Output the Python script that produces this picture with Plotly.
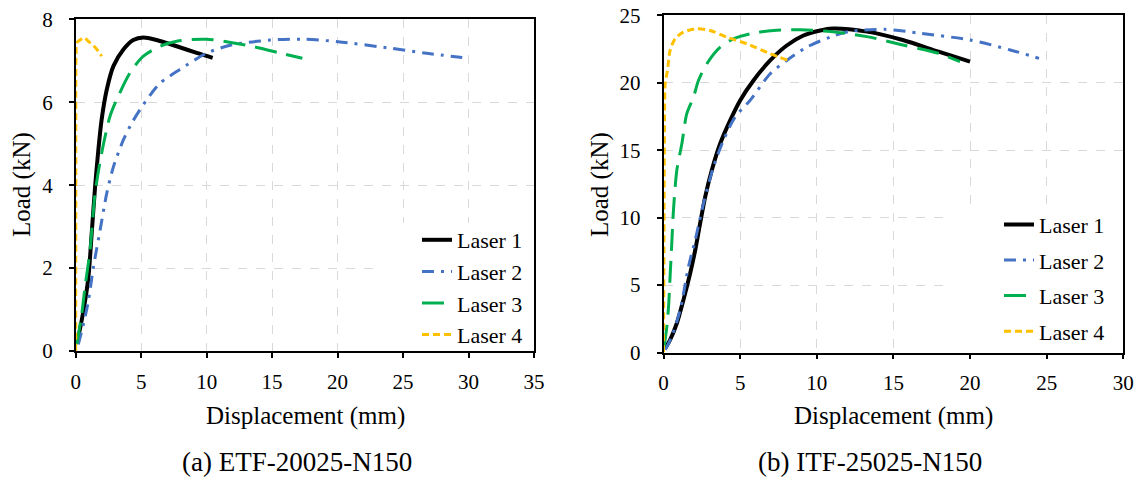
import plotly.graph_objects as go

# page is 1142x479 but the html body has an 8px margin, so the figure is drawn 8px in
PAGE_W, PAGE_H, OFF = 1142, 479, 8
FW, FH = PAGE_W - OFF, PAGE_H - OFF

# ---------------- Data: (a) ETF-20025-N150 ----------------
a_l1_x = [0.1, 0.13, 0.59, 0.97, 1.22, 1.48, 1.73, 1.98, 2.37, 2.88, 3.64, 4.40, 5.17, 6.18, 7.71, 9.24, 10.46]
a_l1_y = [0.3, 0.24, 0.97, 1.78, 2.83, 3.96, 4.85, 5.58, 6.30, 6.87, 7.27, 7.50, 7.56, 7.50, 7.35, 7.19, 7.07]
a_l2_x = [0.2, 0.59, 0.97, 1.35, 1.86, 2.37, 2.88, 3.64, 4.27, 4.91, 5.80, 6.44, 7.96, 9.98, 11.88, 14.87, 17.31, 20.02, 24.09, 26.8, 29.52]
a_l2_y = [0.16, 0.65, 1.21, 2.02, 2.91, 3.80, 4.44, 5.09, 5.49, 5.82, 6.22, 6.46, 6.79, 7.18, 7.38, 7.50, 7.52, 7.46, 7.30, 7.18, 7.08]
a_l3_x = [0.08, 0.46, 0.71, 1.09, 1.48, 1.98, 2.62, 3.13, 4.15, 5.17, 6.44, 7.71, 9.98, 12.97, 15.68, 17.31]
a_l3_y = [0.16, 0.89, 1.54, 2.42, 3.80, 4.77, 5.66, 6.06, 6.71, 7.11, 7.35, 7.47, 7.52, 7.38, 7.18, 7.06]
a_l4_x = [0.0, 0.01, 0.03, 0.08, 0.33, 0.64, 0.97, 1.35, 1.73, 1.98]
a_l4_y = [0.0, 3.96, 7.19, 7.43, 7.50, 7.56, 7.47, 7.37, 7.23, 7.11]

# ---------------- Data: (b) ITF-25025-N150 ----------------
b_l1_x = [0.11, 0.43, 0.87, 1.30, 1.74, 2.07, 2.39, 2.72, 3.15, 3.70, 4.35, 5.0, 5.87, 6.96, 8.04, 9.13, 10.22, 11.0, 13.27, 15.61, 17.95, 20.0]
b_l1_y = [0.32, 0.94, 2.17, 3.90, 5.87, 7.60, 9.57, 11.54, 13.51, 15.49, 17.21, 18.69, 20.17, 21.65, 22.76, 23.50, 23.87, 24.02, 23.79, 23.17, 22.30, 21.56]
b_l2_x = [0.11, 0.54, 1.09, 1.63, 2.07, 2.61, 3.26, 3.91, 4.67, 5.65, 6.96, 8.04, 9.35, 10.87, 12.1, 14.44, 16.78, 20.0, 22.63, 24.5]
b_l2_y = [0.2, 1.18, 3.16, 6.36, 8.34, 11.05, 13.76, 15.73, 17.46, 18.69, 20.67, 21.65, 22.64, 23.38, 23.79, 23.96, 23.66, 23.17, 22.43, 21.81]
b_l3_x = [0.04, 0.22, 0.33, 0.43, 0.54, 0.65, 0.87, 1.20, 1.52, 1.96, 2.28, 2.83, 3.70, 4.57, 5.65, 7.17, 8.91, 10.93, 13.27, 15.61, 17.95, 19.35]
b_l3_y = [0.44, 1.92, 3.40, 5.62, 8.09, 10.55, 13.51, 15.49, 17.71, 18.94, 20.17, 21.41, 22.64, 23.26, 23.63, 23.87, 23.92, 23.79, 23.42, 22.80, 22.18, 21.56]
b_l4_x = [0.0, 0.04, 0.07, 0.11, 0.26, 0.43, 0.76, 1.30, 2.17, 3.04, 4.13, 5.43, 6.96, 8.15]
b_l4_y = [0.0, 10.55, 17.95, 19.93, 20.91, 22.39, 23.26, 23.75, 24.0, 23.87, 23.38, 22.89, 22.15, 21.65]

names = ["Laser 1", "Laser 2", "Laser 3", "Laser 4"]
colors = ["#000000", "#4472C4", "#00B050", "#FFC000"]
widths = [4, 3, 3, 3]
dashes = ["solid", "12px,7px,3px,7px", "22px,10px", "7px,4px"]

FONT = "Liberation Serif"

fig = go.Figure()

a_sets = [(a_l1_x, a_l1_y), (a_l2_x, a_l2_y), (a_l3_x, a_l3_y), (a_l4_x, a_l4_y)]
b_sets = [(b_l1_x, b_l1_y), (b_l2_x, b_l2_y), (b_l3_x, b_l3_y), (b_l4_x, b_l4_y)]

for i, (x, y) in enumerate(a_sets):
    fig.add_trace(go.Scatter(x=x, y=y, mode="lines", name=names[i],
                             line=dict(color=colors[i], width=widths[i], dash=dashes[i], shape="spline", smoothing=0.8),
                             xaxis="x", yaxis="y", legend="legend", legendgroup="a%d" % i))
for i, (x, y) in enumerate(b_sets):
    fig.add_trace(go.Scatter(x=x, y=y, mode="lines", name=names[i],
                             line=dict(color=colors[i], width=widths[i], dash=dashes[i], shape="spline", smoothing=0.8),
                             xaxis="x2", yaxis="y2", legend="legend2", legendgroup="b%d" % i))

def px_x(p):
    return (p - OFF) / FW

def px_y(p):
    return 1 - (p - OFF) / FH

axis_common = dict(showline=True, linecolor="black", linewidth=1.5, mirror=True,
                   ticks="outside", ticklen=5, tickcolor="black", tickwidth=1.5,
                   showgrid=True, gridcolor="#D9D9D9", gridwidth=1.2, griddash="dash",
                   zeroline=False, automargin=False, ticklabeloverflow="allow",
                   tickfont=dict(family=FONT, size=21, color="black"))

fig.update_layout(
    template="none",
    width=FW, height=FH,
    margin=dict(l=0, r=0, t=0, b=0, autoexpand=False),
    paper_bgcolor="white", plot_bgcolor="white",
    font=dict(family=FONT, color="black"),
    xaxis=dict(domain=[px_x(75.7), px_x(534)], range=[0, 35], dtick=5, anchor="y",
               ticklabelstandoff=6, **axis_common),
    yaxis=dict(domain=[px_y(351), px_y(19.3)], range=[0, 8], dtick=2, anchor="x",
               ticklabelstandoff=12, **axis_common),
    xaxis2=dict(domain=[px_x(663.5), px_x(1123.3)], range=[0, 30], dtick=5, anchor="y2",
                ticklabelstandoff=6, **axis_common),
    yaxis2=dict(domain=[px_y(352.5), px_y(15.3)], range=[0, 25], dtick=5, anchor="x2",
                ticklabelstandoff=12, **axis_common),
    legend=dict(x=px_x(417), y=px_y(219), xanchor="left", yanchor="top",
                bgcolor="rgba(255,255,255,0)", font=dict(family=FONT, size=22, color="black"),
                traceorder="grouped", tracegroupgap=0),
    legend2=dict(x=px_x(999), y=px_y(203.6), xanchor="left", yanchor="top",
                 bgcolor="rgba(255,255,255,0)", font=dict(family=FONT, size=22, color="black"),
                 traceorder="grouped", tracegroupgap=4),
    showlegend=True,
)

# white panels behind the legends: hide gridlines, stay below traces and frame
fig.add_shape(type="rect", xref="x", yref="y", x0=22.7, x1=35, y0=0, y1=3.09,
              fillcolor="white", line=dict(width=0), layer="between")
fig.add_shape(type="rect", xref="x2", yref="y2", x0=18.7, x1=30, y0=0, y1=10.9,
              fillcolor="white", line=dict(width=0), layer="between")

annos = [
    dict(text="Displacement (mm)", x=px_x(305), y=px_y(416)),
    dict(text="Displacement (mm)", x=px_x(893), y=px_y(416)),
    dict(text="(a) ETF-20025-N150", x=px_x(297), y=px_y(462), size=27),
    dict(text="(b) ITF-25025-N150", x=px_x(870), y=px_y(462), size=27),
    dict(text="Load (kN)", x=px_x(22), y=px_y(185), angle=-90),
    dict(text="Load (kN)", x=px_x(600), y=px_y(185), angle=-90),
]
for a in annos:
    fig.add_annotation(xref="paper", yref="paper", x=a["x"], y=a["y"], text=a["text"],
                       showarrow=False, xanchor="center", yanchor="middle",
                       textangle=a.get("angle", 0),
                       font=dict(family=FONT, size=a.get("size", 25), color="black"))

fig.write_html("out.html")
